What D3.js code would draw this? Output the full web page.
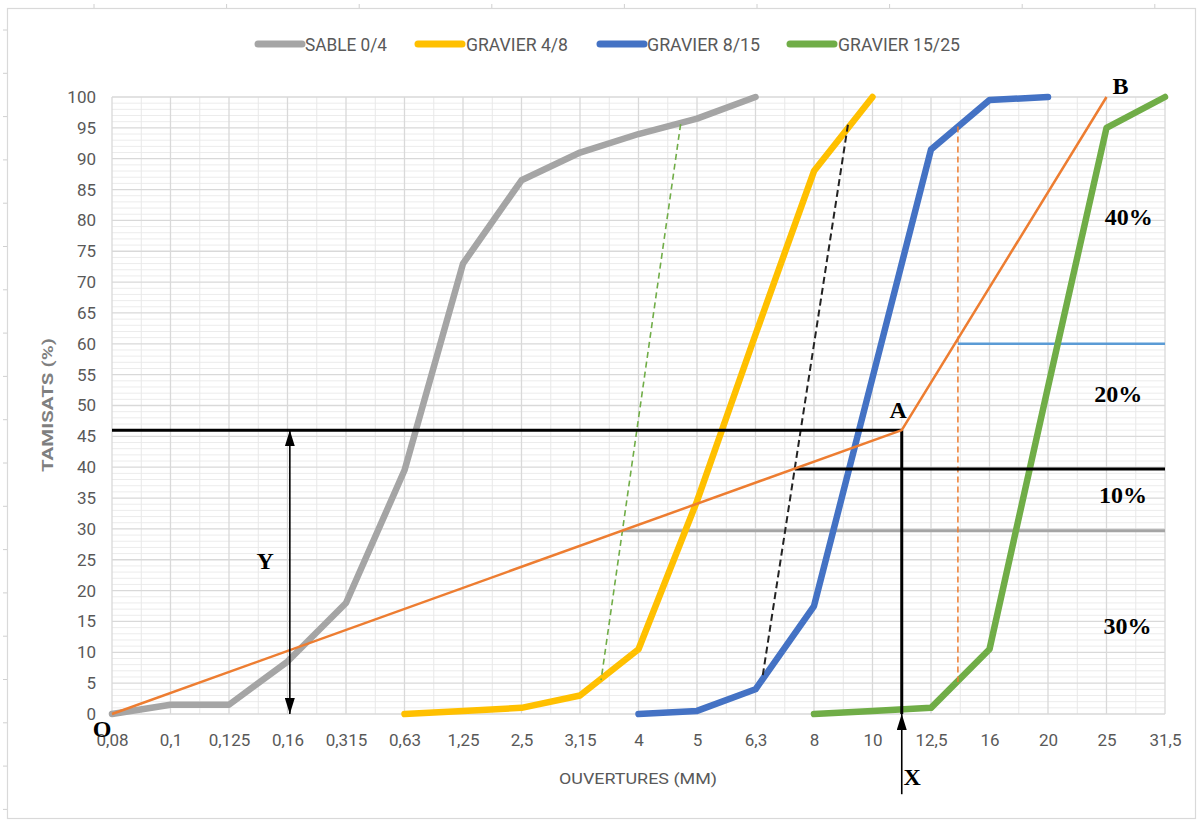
<!DOCTYPE html>
<html>
<head>
<meta charset="utf-8">
<script src="https://cdn.jsdelivr.net/npm/d3@7"></script>
<style>
  html, body { margin: 0; padding: 0; background: #fff; }
  svg { display: block; }
  text.sans { font-family: Roboto, "Liberation Sans", sans-serif; }
  text.serif { font-family: "Liberation Serif", "DejaVu Serif", serif; font-weight: bold; }
</style>
</head>
<body>
<svg id="chart" width="1203" height="825"></svg>
<script>
// ---------- DATA ----------
const categories = ["0,08","0,1","0,125","0,16","0,315","0,63","1,25","2,5","3,15","4","5","6,3","8","10","12,5","16","20","25","31,5"];
const yTicks = [0,5,10,15,20,25,30,35,40,45,50,55,60,65,70,75,80,85,90,95,100];

const sable   = [0, 1.5, 1.5, 8.5, 18, 39.5, 73, 86.5, 91, 94, 96.5, 100, null, null, null, null, null, null, null];
const g4_8    = [null, null, null, null, null, 0, 0.5, 1, 3, 10.5, 34.5, 61.5, 88, 100, null, null, null, null, null];
const g8_15   = [null, null, null, null, null, null, null, null, null, 0, 0.5, 4, 17.5, 54.5, 91.5, 99.5, 100, null, null];
const g15_25  = [null, null, null, null, null, null, null, null, null, null, null, null, 0, 0.5, 1, 10.5, 53, 95, 100];

const seriesNames  = ["SABLE 0/4", "GRAVIER 4/8", "GRAVIER 8/15", "GRAVIER 15/25"];
const seriesColors = ["#A5A5A5", "#FFC000", "#4472C4", "#70AD47"];

// Construction (positions given as [category index, % passing])
const orangeLine  = [[0,0],[13.5,46],[17,100]];
const lineY46     = [[0,46],[13.5,46]];
const lineA_down  = [[13.5,46],[13.5,0]];
const arrowX      = [[13.5,-13],[13.5,0]];
const arrowY      = [[3.04,0],[3.04,46]];
const line40      = [[11.67,39.7],[18,39.7]];
const line30      = [[8.73,29.7],[18,29.7]];
const line60      = [[14.46,60],[18,60]];
const dashGreen   = [[9.72,95.6],[8.36,5.5]];
const dashBlack   = [[12.58,95.5],[11.12,6]];
const dashOrange  = [[14.46,95.2],[14.46,5.2]];

const labels = [
  {t:"O",   x:-0.17, v:-2.5},
  {t:"A",   x:13.44, v:49.2},
  {t:"B",   x:17.24, v:101.8},
  {t:"X",   x:13.68, v:-10.2},
  {t:"Y",   x:2.62,  v:24.8},
  {t:"40%", x:17.38, v:80.5},
  {t:"20%", x:17.2,  v:51.8},
  {t:"10%", x:17.28, v:35.5},
  {t:"30%", x:17.36, v:14.3}
];

// ---------- CHART ----------
const svg = d3.select("#chart");
const x = d3.scaleLinear().domain([0, categories.length - 1]).range([112, 1165]);
const y = d3.scaleLinear().domain([0, 100]).range([714, 97]);

// outer frame
svg.append("rect").attr("x", 7.5).attr("y", 8.5).attr("width", 1188).attr("height", 810)
   .attr("fill", "#fff").attr("stroke", "#d9d9d9").attr("stroke-width", 1.2);
// spreadsheet cell marks outside the frame
d3.range(94, 1200, 132.6).forEach(px => {
  svg.append("line").attr("x1", px).attr("x2", px).attr("y1", 4).attr("y2", 8)
     .attr("stroke", "#d0d0d0");
});
d3.range(30, 825, 43.3).forEach(py => {
  svg.append("line").attr("x1", 3).attr("x2", 7).attr("y1", py).attr("y2", py)
     .attr("stroke", "#d0d0d0");
});

const grid = svg.append("g");
// minor horizontal gridlines
d3.range(0, 101, 1).filter(v => v % 5 !== 0).forEach(v => {
  grid.append("line").attr("x1", x(0)).attr("x2", x(18)).attr("y1", y(v)).attr("y2", y(v))
      .attr("stroke", "#ececec").attr("stroke-width", 1);
});
// minor vertical gridlines
d3.range(0.5, 18, 1).forEach(i => {
  grid.append("line").attr("x1", x(i)).attr("x2", x(i)).attr("y1", y(0)).attr("y2", y(100))
      .attr("stroke", "#e8e8e8").attr("stroke-width", 1);
});
// major horizontal gridlines
yTicks.forEach(v => {
  grid.append("line").attr("x1", x(0)).attr("x2", x(18)).attr("y1", y(v)).attr("y2", y(v))
      .attr("stroke", "#d9d9d9").attr("stroke-width", 1.3);
});
// major vertical gridlines
categories.forEach((c, i) => {
  grid.append("line").attr("x1", x(i)).attr("x2", x(i)).attr("y1", y(0)).attr("y2", y(100))
      .attr("stroke", "#d9d9d9").attr("stroke-width", 1.3);
});

// axes (tick labels)
const yAxis = d3.axisLeft(y).tickValues(yTicks).tickSize(0).tickPadding(0);
svg.append("g").attr("transform", "translate(96,0)").call(yAxis)
   .call(g => g.select(".domain").remove())
   .call(g => g.selectAll("text").attr("class", "sans").attr("font-size", 17).attr("fill", "#595959"));

const xAxis = d3.axisBottom(x).tickValues(d3.range(categories.length))
   .tickFormat(i => categories[i]).tickSize(0).tickPadding(0);
svg.append("g").attr("transform", "translate(0,734)").call(xAxis)
   .call(g => g.select(".domain").remove())
   .call(g => g.selectAll("text").attr("class", "sans").attr("font-size", 17).attr("fill", "#595959"));

// axis titles
svg.append("text").attr("class", "sans").attr("x", 638).attr("y", 784).attr("text-anchor", "middle")
   .attr("font-size", 15).attr("fill", "#595959")
   .attr("textLength", 158).attr("lengthAdjust", "spacingAndGlyphs")
   .text("OUVERTURES (MM)");
svg.append("text").attr("class", "sans").attr("transform", "translate(53,405) rotate(-90)").attr("text-anchor", "middle")
   .attr("font-size", 15).attr("font-weight", "bold").attr("fill", "#7f7f7f")
   .attr("textLength", 134).attr("lengthAdjust", "spacingAndGlyphs")
   .text("TAMISATS (%)");

// ---------- construction lines (under series) ----------
const cl = d3.line().x(d => x(d[0])).y(d => y(d[1]));
const cons = svg.append("g");
cons.append("path").attr("d", cl(line30)).attr("stroke", "#A5A5A5").attr("stroke-width", 3).attr("fill", "none");
cons.append("path").attr("d", cl(line60)).attr("stroke", "#5B9BD5").attr("stroke-width", 2.5).attr("fill", "none");

// ---------- series ----------
const seriesData = [sable, g4_8, g8_15, g15_25];
const sl = d3.line().defined(d => d.v !== null).x(d => x(d.i)).y(d => y(d.v));
seriesData.forEach((arr, k) => {
  const pts = arr.map((v, i) => ({i, v}));
  svg.append("path").attr("d", sl(pts)).attr("fill", "none")
     .attr("stroke", seriesColors[k]).attr("stroke-width", 6.5)
     .attr("stroke-linejoin", "round").attr("stroke-linecap", "round");
});

// ---------- construction lines (over series) ----------
const over = svg.append("g");
over.append("path").attr("d", cl(dashGreen)).attr("stroke", "#70AD47").attr("stroke-width", 1.6)
    .attr("stroke-dasharray", "6,4").attr("fill", "none");
over.append("path").attr("d", cl(dashBlack)).attr("stroke", "#222").attr("stroke-width", 2)
    .attr("stroke-dasharray", "7,4").attr("fill", "none");
over.append("path").attr("d", cl(dashOrange)).attr("stroke", "#ED7D31").attr("stroke-width", 1.5)
    .attr("stroke-dasharray", "6,4").attr("fill", "none");
over.append("path").attr("d", cl(line40)).attr("stroke", "#000").attr("stroke-width", 3).attr("fill", "none");
over.append("path").attr("d", cl(lineY46)).attr("stroke", "#000").attr("stroke-width", 3).attr("fill", "none");
over.append("path").attr("d", cl(lineA_down)).attr("stroke", "#000").attr("stroke-width", 3).attr("fill", "none");
over.append("path").attr("d", cl(orangeLine)).attr("stroke", "#ED7D31").attr("stroke-width", 2.5)
    .attr("stroke-linejoin", "round").attr("fill", "none");

// arrows
const defs = svg.append("defs");
defs.append("marker").attr("id", "arr").attr("viewBox", "0 0 16 10").attr("refX", 16).attr("refY", 5)
    .attr("markerWidth", 16).attr("markerHeight", 10).attr("markerUnits", "userSpaceOnUse")
    .attr("orient", "auto-start-reverse")
    .append("path").attr("d", "M0,0 L16,5 L0,10 z").attr("fill", "#000");

over.append("path").attr("d", cl(arrowX)).attr("stroke", "#000").attr("stroke-width", 1.6)
    .attr("fill", "none").attr("marker-end", "url(#arr)");
over.append("path").attr("d", cl(arrowY)).attr("stroke", "#000").attr("stroke-width", 1.6)
    .attr("fill", "none").attr("marker-end", "url(#arr)").attr("marker-start", "url(#arr)");

// labels
svg.append("g").selectAll("text").data(labels).join("text")
   .attr("class", "serif")
   .attr("x", d => x(d.x)).attr("y", d => y(d.v))
   .attr("text-anchor", "middle").attr("dominant-baseline", "central")
   .attr("font-size", 24).attr("fill", "#000")
   .text(d => d.t);

// ---------- legend ----------
const legendPos = [[258, 302, 305, 82], [418, 462, 466, 102], [600, 644, 647, 113], [790, 834, 838, 122]];
const leg = svg.append("g");
seriesNames.forEach((n, k) => {
  const p = legendPos[k];
  leg.append("line").attr("x1", p[0]).attr("x2", p[1]).attr("y1", 44).attr("y2", 44)
     .attr("stroke", seriesColors[k]).attr("stroke-width", 7).attr("stroke-linecap", "round");
  leg.append("text").attr("class", "sans").attr("x", p[2]).attr("y", 51).attr("font-size", 18).attr("fill", "#595959")
     .attr("textLength", p[3]).attr("lengthAdjust", "spacingAndGlyphs").text(n);
});
</script>
</body>
</html>
